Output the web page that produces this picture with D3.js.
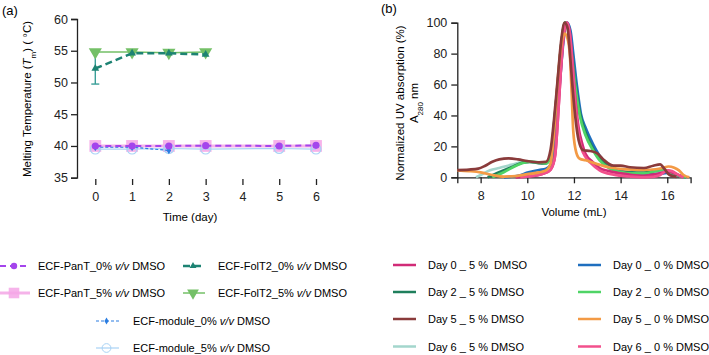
<!DOCTYPE html>
<html>
<head>
<meta charset="utf-8">
<script src="https://cdn.jsdelivr.net/npm/d3@7"></script>
<style>
  body { margin: 0; background: #fff; }
  svg { font-family: "Liberation Sans", Arial, sans-serif; display: block; }
  text { white-space: pre; }
</style>
</head>
<body>
<svg id="chart" width="709" height="355"></svg>
<script>
// ---------- panel (a): melting temperature vs time ----------
const daysA = [0, 1, 2, 3, 4, 5, 6];
const dayPanT = [0, 1, 2, 3, 5, 6];
const tmPanT0 = [40.0, 40.0, 40.0, 40.05, 40.0, 40.1];
const tmPanT5 = [40.0, 40.0, 40.0, 40.0, 40.0, 40.0];
const dayModule0 = [0, 1, 2];
const tmModule0 = [39.8, 39.8, 39.3];
const dayModule5 = [0, 1, 2, 3, 5, 6];
const tmModule5 = [39.5, 39.5, 39.6, 39.5, 39.6, 39.5];
const dayFolT2 = [0, 1, 2, 3];
const tmFolT2_0 = [52.2, 54.6, 54.6, 54.4];
const errFolT2_0 = [2.45, 0.1, 0.1, 0.1];
const tmFolT2_5 = [54.8, 54.8, 54.7, 54.8];
const ticksTm = [35, 40, 45, 50, 55, 60];

// ---------- panel (b): SEC traces (volume mL, % absorption) ----------
const day6_5 = [[7.8,0],[8.0,1.5],[8.4,4.5],[8.8,6],[9.3,8],[9.8,9.8],[10.2,10],[10.6,9],[10.85,10],[11.0,14],[11.15,34],[11.3,60],[11.45,85],[11.62,100],[11.75,96],[11.9,80],[12.05,60],[12.25,41],[12.5,28],[12.8,18.5],[13.1,11.5],[13.5,6.5],[14.0,3.8],[14.5,3],[15.0,2.8],[15.5,3.5],[15.8,4],[16.1,3],[16.5,1],[16.8,0]];
const day0_0 = [[9.0,0],[9.6,1],[10.05,3.2],[10.5,4.7],[10.8,5.5],[11.0,8],[11.12,15],[11.25,35],[11.4,62],[11.55,88],[11.7,100],[11.85,95],[11.97,80],[12.12,60],[12.3,41],[12.5,32],[12.8,22],[13.1,14],[13.5,7.5],[14.0,4],[14.5,3],[15.0,2],[15.5,2],[16.0,2.8],[16.4,1.5],[16.8,0]];
const day2_5 = [[8.3,0],[8.6,2],[9.0,4.5],[9.4,7],[9.8,9.5],[10.1,10],[10.5,9.2],[10.8,9],[11.0,14],[11.15,35],[11.3,60],[11.45,85],[11.62,100],[11.75,97],[11.9,82],[12.05,62],[12.25,42],[12.5,29],[12.8,19],[13.1,12],[13.5,6.5],[14.0,3.5],[14.5,3],[15.0,3],[15.5,4.5],[15.8,5],[16.1,4],[16.5,1.2],[16.8,0]];
const day2_0 = [[8.5,0],[8.9,2.6],[9.3,5.8],[9.75,9],[10.1,10.2],[10.5,9.7],[10.8,9],[11.0,13],[11.15,33],[11.3,60],[11.45,85],[11.62,100],[11.75,96],[11.9,80],[12.05,60],[12.25,40],[12.5,27],[12.8,18],[13.1,11],[13.5,6],[14.0,3.5],[14.5,2.5],[15.0,2.5],[15.5,4],[15.8,5],[16.1,3.5],[16.5,1],[16.8,0]];
const day0_5 = [[9.5,0],[10.0,0.6],[10.4,1.2],[10.7,2.4],[11.0,5],[11.1,8],[11.2,15],[11.3,35],[11.42,65],[11.55,90],[11.7,100],[11.82,94],[11.95,72],[12.05,52],[12.2,32],[12.35,22],[12.5,15],[12.8,10],[13.1,6],[13.5,4],[14.0,2.5],[14.5,1.5],[15.0,1],[15.5,2],[15.8,3],[16.0,4],[16.4,2],[16.7,0]];
const day6_0 = [[9.7,0],[10.0,0.5],[10.3,1],[10.6,2],[10.8,3],[11.0,5],[11.1,8],[11.2,15],[11.3,35],[11.42,65],[11.55,90],[11.7,100],[11.82,93],[11.95,70],[12.05,50],[12.18,30],[12.3,20],[12.5,13],[12.7,9.5],[13.1,4.5],[13.7,1.7],[14.4,0.5],[15.0,0],[15.4,0.3],[15.7,1.5],[16.0,4.5],[16.2,4],[16.45,1.8],[16.7,0]];
const day5_0 = [[7.0,4.5],[7.5,4.0],[8.0,3.2],[8.5,1.5],[9.0,0.5],[9.5,0.8],[10.0,2.0],[10.5,3.2],[10.8,4.5],[11.0,9],[11.15,30],[11.3,62],[11.45,85],[11.6,93],[11.72,90],[11.83,78],[11.9,55],[11.97,30],[12.1,16],[12.25,12],[12.5,11],[13.0,8.5],[13.5,6.5],[14.0,5.5],[14.5,5],[15.0,4.8],[15.5,5.2],[15.8,6],[16.05,7],[16.3,6.2],[16.5,4.5],[16.7,1.5],[16.95,0]];
const day5_5 = [[7.0,4.7],[7.5,5.0],[7.9,5.6],[8.2,7.5],[8.5,10],[8.8,11.6],[9.2,12.2],[9.6,11.6],[10.0,10.5],[10.5,9.7],[10.8,10],[11.0,18],[11.15,38],[11.3,63],[11.45,88],[11.6,100],[11.72,97],[11.82,82],[11.92,62],[12.05,40],[12.2,24],[12.4,17.5],[12.7,17],[13.0,15.5],[13.3,11],[13.7,7.5],[14.0,7.5],[14.4,6.5],[15.0,6],[15.4,7.5],[15.7,8.3],[15.85,6],[16.1,1.5],[16.4,0.3]];
const ticksVol = [8, 10, 12, 14, 16];
const ticksAbs = [0, 20, 40, 60, 80, 100];

const svg = d3.select('#chart');

/** ################## PANEL (a) ################## */
const xA = d3.scaleLinear().domain([0, 6]).range([95.3, 316]);
const yA = d3.scaleLinear().domain([35, 60]).range([177.7, 19]);

svg.append('text').attr('x', 2).attr('y', 15).text('(a)').style('font-size', '13px');

svg.append('g').attr('transform', 'translate(77,0)')
  .call(d3.axisLeft(yA).tickValues(ticksTm).tickSizeOuter(0).tickSize(6).tickPadding(3));
const axAx = svg.append('g').attr('transform', 'translate(0,179)')
  .call(d3.axisBottom(xA).tickValues(daysA).tickFormat(d3.format('d')).tickSize(6).tickPadding(7));
axAx.select('.domain').remove();

// y title with italic T subscript m
const tA = svg.append('text')
  .attr('transform', 'translate(31,99) rotate(-90)')
  .attr('text-anchor', 'middle')
  .style('font-size', '11.5px');
tA.append('tspan').text('Melting Temperature (');
tA.append('tspan').text('T').style('font-style', 'italic');
tA.append('tspan').text('m').attr('baseline-shift', 'sub').style('font-size', '8px');
tA.append('tspan').text(') ( °C)');
svg.append('text').attr('x', 190).attr('y', 221).attr('text-anchor', 'middle')
  .text('Time (day)').style('font-size', '11.5px');

const lineA = d3.line().x(d => xA(d[0])).y(d => yA(d[1]));
const zipA = (xs, ys) => xs.map((x, i) => [x, ys[i]]);

const seriesA = [
  { name: 'ECF-PanT_5%', day: dayPanT, tm: tmPanT5, color: '#f4a6e6', width: 3, dash: null, sym: d3.symbolSquare, size: 140, fill: '#f4a6e6', op: 0.85 },
  { name: 'ECF-module_5%', day: dayModule5, tm: tmModule5, color: '#a9d3f5', width: 1.2, dash: null, sym: d3.symbolCircle, size: 75, fill: 'none', op: 1 },
  { name: 'ECF-module_0%', day: dayModule0, tm: tmModule0, color: '#2a7de1', width: 1.2, dash: '3,2', sym: d3.symbolDiamond, size: 18, fill: '#2a7de1', op: 1 },
  { name: 'ECF-PanT_0%', day: dayPanT, tm: tmPanT0, color: '#a445ec', width: 2, dash: '6,4', sym: d3.symbolCircle, size: 40, fill: '#a445ec', op: 1 },
  { name: 'ECF-FolT2_5%', day: dayFolT2, tm: tmFolT2_5, color: '#74c067', width: 1.5, dash: null, sym: d3.symbolTriangle, size: 75, fill: '#74c067', op: 1, down: true },
  { name: 'ECF-FolT2_0%', day: dayFolT2, tm: tmFolT2_0, color: '#1d8373', width: 2.5, dash: '7,4', sym: d3.symbolTriangle, size: 26, fill: '#1d8373', op: 1 }
];

// error bar FolT2_0%
dayFolT2.forEach((d, i) => {
  if (errFolT2_0[i] < 0.5) return;
  const g = svg.append('g').attr('stroke', '#3a9f98').attr('stroke-width', 1.4);
  g.append('line').attr('x1', xA(d)).attr('x2', xA(d))
    .attr('y1', yA(tmFolT2_0[i] - errFolT2_0[i])).attr('y2', yA(tmFolT2_0[i] + errFolT2_0[i]));
  g.append('line').attr('x1', xA(d) - 4).attr('x2', xA(d) + 4)
    .attr('y1', yA(tmFolT2_0[i] - errFolT2_0[i])).attr('y2', yA(tmFolT2_0[i] - errFolT2_0[i]));
});

seriesA.forEach(s => {
  const pts = zipA(s.day, s.tm);
  svg.append('path').datum(pts).attr('d', lineA)
    .attr('fill', 'none').attr('stroke', s.color).attr('stroke-width', s.width)
    .attr('stroke-dasharray', s.dash).attr('opacity', s.op);
  svg.append('g').selectAll('path').data(pts).join('path')
    .attr('d', d3.symbol().type(s.sym).size(s.size))
    .attr('transform', d => `translate(${xA(d[0])},${yA(d[1])})${s.down ? ' rotate(180)' : ''}`)
    .attr('fill', s.fill).attr('stroke', s.fill === 'none' ? s.color : 'none')
    .attr('stroke-width', 1.2).attr('opacity', s.op);
});

// legend (a)
const legA = [
  { s: 3, x0: 0, x1: 30, tx: 38, y: 266, label: 'ECF-PanT_0% ' },
  { s: 5, x0: 183, x1: 205, tx: 218, y: 266, label: 'ECF-FolT2_0% ' },
  { s: 0, x0: 0, x1: 30, tx: 38, y: 293, label: 'ECF-PanT_5% ' },
  { s: 4, x0: 183, x1: 205, tx: 218, y: 293, label: 'ECF-FolT2_5% ' },
  { s: 2, x0: 96, x1: 119, tx: 133, y: 321, label: 'ECF-module_0% ' },
  { s: 1, x0: 96, x1: 119, tx: 133, y: 348, label: 'ECF-module_5% ' }
];
legA.forEach(l => {
  const s = seriesA[l.s];
  svg.append('line').attr('x1', l.x0).attr('x2', l.x1).attr('y1', l.y).attr('y2', l.y)
    .attr('stroke', s.color).attr('stroke-width', s.width).attr('stroke-dasharray', s.dash).attr('opacity', s.op);
  const cx = (l.x0 + l.x1) / 2 - 1;
  svg.append('path').attr('d', d3.symbol().type(s.sym).size(s.size * 0.8)())
    .attr('transform', `translate(${cx},${l.y})${s.down ? ' rotate(180)' : ''}`)
    .attr('fill', s.fill).attr('stroke', s.fill === 'none' ? s.color : 'none').attr('opacity', s.op);
  const t = svg.append('text').attr('x', l.tx).attr('y', l.y + 4).style('font-size', '11px');
  t.append('tspan').text(l.label);
  t.append('tspan').text('v/v').style('font-style', 'italic');
  t.append('tspan').text(' DMSO');
});

/** ################## PANEL (b) ################## */
const xB = d3.scaleLinear().domain([7, 17]).range([457.3, 690.6]);
const yB = d3.scaleLinear().domain([0, 100]).range([177.3, 22.7]);

svg.append('text').attr('x', 381).attr('y', 13).text('(b)').style('font-size', '13px');

svg.append('g').attr('transform', 'translate(457.3,0)')
  .call(d3.axisLeft(yB).tickValues(ticksAbs).tickSizeOuter(0).tickSize(6).tickPadding(4));
svg.append('g').attr('transform', 'translate(0,177.3)')
  .call(d3.axisBottom(xB).tickValues(ticksVol).tickSizeOuter(0).tickSize(6).tickPadding(8));

svg.append('text').attr('transform', 'translate(404,103) rotate(-90)').attr('text-anchor', 'middle')
  .text('Normalized UV absorption (%)').style('font-size', '11.5px');
const tB = svg.append('text').attr('transform', 'translate(418,103) rotate(-90)').attr('text-anchor', 'middle')
  .style('font-size', '11.5px');
tB.append('tspan').text('A');
tB.append('tspan').text('280').attr('baseline-shift', 'sub').style('font-size', '8px');
tB.append('tspan').text(' nm');
svg.append('text').attr('x', 574).attr('y', 216).attr('text-anchor', 'middle')
  .text('Volume (mL)').style('font-size', '11.5px');

const lineB = d3.line().x(d => xB(d[0])).y(d => yB(d[1])).curve(d3.curveMonotoneX);
const seriesB = [
  { label: 'Day 6 _ 5 % DMSO', data: day6_5, color: '#a3d6cc' },
  { label: 'Day 0 _ 0 % DMSO', data: day0_0, color: '#1f6fbf' },
  { label: 'Day 2 _ 5 % DMSO', data: day2_5, color: '#1f7f5c' },
  { label: 'Day 2 _ 0 % DMSO', data: day2_0, color: '#4fd466' },
  { label: 'Day 0 _ 5 %  DMSO', data: day0_5, color: '#d12b77' },
  { label: 'Day 6 _ 0 % DMSO', data: day6_0, color: '#f2508c' },
  { label: 'Day 5 _ 0 % DMSO', data: day5_0, color: '#f39a45' },
  { label: 'Day 5 _ 5 % DMSO', data: day5_5, color: '#8a3b3b' }
];
seriesB.forEach(s => {
  svg.append('path').datum(s.data).attr('d', lineB)
    .attr('fill', 'none').attr('stroke', s.color).attr('stroke-width', 2.7)
    .attr('stroke-linejoin', 'round');
});

// legend (b)
const legB = [
  [4, 393, 428, 265], [2, 393, 428, 292], [7, 393, 428, 319], [0, 393, 428, 346.5],
  [1, 578, 613, 265], [3, 578, 613, 292], [6, 578, 613, 319], [5, 578, 613, 346.5]
];
legB.forEach(([i, x0, tx, y]) => {
  const s = seriesB[i];
  svg.append('line').attr('x1', x0).attr('x2', x0 + 23).attr('y1', y).attr('y2', y)
    .attr('stroke', s.color).attr('stroke-width', 2.5);
  svg.append('text').attr('x', tx).attr('y', y + 4).text(s.label).style('font-size', '11px');
});

svg.selectAll('.tick text').style('font-size', '12.5px').attr('fill', '#222');
svg.selectAll('.tick line, .domain').attr('stroke', '#222').attr('stroke-width', 1.3);
</script>
</body>
</html>
